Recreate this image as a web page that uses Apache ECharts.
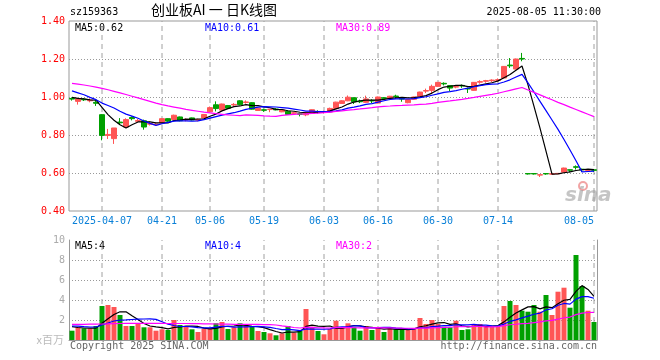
<!DOCTYPE html>
<html><head><meta charset="utf-8">
<script src="https://cdn.jsdelivr.net/npm/echarts@6/dist/echarts.min.js"></script>
<style>html,body{margin:0;padding:0;background:#fff}#c{width:660px;height:360px}</style>
</head><body><div id="c"></div>
<script>
const dates = ['2025-03-28','2025-03-31','2025-04-01','2025-04-02','2025-04-03',
'2025-04-07','2025-04-08','2025-04-09','2025-04-10','2025-04-11',
'2025-04-14','2025-04-15','2025-04-16','2025-04-17','2025-04-18',
'2025-04-21','2025-04-22','2025-04-23','2025-04-24','2025-04-25',
'2025-04-28','2025-04-29','2025-04-30','2025-05-06','2025-05-07',
'2025-05-08','2025-05-09','2025-05-12','2025-05-13','2025-05-14',
'2025-05-15','2025-05-16','2025-05-19','2025-05-20','2025-05-21',
'2025-05-22','2025-05-23','2025-05-26','2025-05-27','2025-05-28',
'2025-05-29','2025-05-30','2025-06-03','2025-06-04','2025-06-05',
'2025-06-06','2025-06-09','2025-06-10','2025-06-11','2025-06-12',
'2025-06-13','2025-06-16','2025-06-17','2025-06-18','2025-06-19',
'2025-06-20','2025-06-23','2025-06-24','2025-06-25','2025-06-26',
'2025-06-27','2025-06-30','2025-07-01','2025-07-02','2025-07-03',
'2025-07-04','2025-07-07','2025-07-08','2025-07-09','2025-07-10',
'2025-07-11','2025-07-14','2025-07-15','2025-07-16','2025-07-17',
'2025-07-18','2025-07-21','2025-07-22','2025-07-23','2025-07-24',
'2025-07-25','2025-07-28','2025-07-29','2025-07-30','2025-07-31',
'2025-08-01','2025-08-04','2025-08-05'];

const openP = [0.992,0.977,0.988,0.980,0.972,
0.907,0.798,0.781,0.868,0.842,
0.892,0.872,0.875,0.857,0.854,
0.863,0.886,0.882,0.895,0.879,
0.890,0.878,0.890,0.922,0.959,
0.931,0.955,0.958,0.980,0.971,
0.970,0.929,0.933,0.934,0.937,
0.922,0.925,0.914,0.912,0.906,
0.913,0.924,0.919,0.921,0.939,
0.966,0.980,0.996,0.978,0.972,
0.982,0.968,0.996,0.992,1.005,
0.992,0.970,0.988,1.004,1.031,
1.035,1.056,1.072,1.060,1.052,
1.061,1.045,1.035,1.078,1.083,
1.086,1.088,1.100,1.168,1.147,
1.203,0.597,0.597,0.589,0.597,
0.594,0.596,0.604,0.617,0.633,
0.620,0.613,0.617];
const closeP = [0.989,0.991,0.985,0.984,0.967,
0.798,0.803,0.837,0.864,0.881,
0.886,0.876,0.842,0.860,0.857,
0.886,0.873,0.904,0.875,0.882,
0.879,0.881,0.908,0.944,0.939,
0.963,0.941,0.961,0.960,0.974,
0.936,0.941,0.930,0.936,0.932,
0.932,0.908,0.917,0.909,0.919,
0.933,0.921,0.922,0.940,0.973,
0.980,0.999,0.975,0.975,0.990,
0.979,1.000,0.993,1.004,1.002,
0.989,0.987,1.000,1.026,1.034,
1.056,1.077,1.069,1.047,1.055,
1.058,1.042,1.077,1.081,1.086,
1.089,1.091,1.161,1.164,1.200,
1.200,0.595,0.595,0.591,0.595,
0.596,0.598,0.626,0.615,0.630,
0.617,0.615,0.614];
const lowP = [0.981,0.960,0.979,0.972,0.953,
0.772,0.779,0.753,0.854,0.842,
0.877,0.867,0.828,0.850,0.850,
0.862,0.868,0.879,0.872,0.872,
0.876,0.872,0.888,0.920,0.924,
0.930,0.938,0.951,0.957,0.965,
0.933,0.927,0.922,0.920,0.930,
0.920,0.906,0.908,0.898,0.899,
0.912,0.913,0.913,0.919,0.937,
0.964,0.978,0.963,0.968,0.970,
0.968,0.966,0.986,0.984,0.990,
0.975,0.967,0.986,1.002,1.021,
1.021,1.054,1.061,1.030,1.046,
1.048,1.021,1.033,1.070,1.075,
1.077,1.080,1.098,1.153,1.145,
1.188,0.592,0.592,0.579,0.591,
0.592,0.594,0.603,0.603,0.618,
0.605,0.608,0.606];
const highP = [0.998,0.993,0.994,0.993,0.985,
0.910,0.832,0.837,0.889,0.888,
0.898,0.884,0.881,0.872,0.862,
0.888,0.888,0.907,0.897,0.888,
0.892,0.886,0.910,0.950,0.977,
0.965,0.958,0.968,0.983,0.982,
0.973,0.943,0.938,0.937,0.940,
0.934,0.927,0.921,0.916,0.921,
0.935,0.930,0.928,0.944,0.975,
0.983,1.008,0.998,0.986,1.007,
0.988,1.002,1.000,1.006,1.012,
1.000,0.989,1.002,1.028,1.044,
1.065,1.079,1.077,1.062,1.060,
1.066,1.050,1.079,1.088,1.090,
1.093,1.098,1.163,1.205,1.202,
1.232,0.599,0.599,0.593,0.599,
0.598,0.600,0.628,0.618,0.640,
0.623,0.618,0.620];
const volume = [0.93,1.27,1.17,1.17,1.40,
3.40,3.50,3.30,2.50,1.40,
1.40,1.67,1.27,1.27,0.93,
1.07,1.00,2.00,1.50,1.40,
1.07,0.80,1.13,1.17,1.67,
1.80,1.10,1.27,1.67,1.43,
1.40,0.90,0.80,0.67,0.47,
0.67,1.40,0.73,0.90,3.10,
1.33,0.90,0.57,1.10,1.93,
1.27,1.67,1.27,0.93,1.40,
1.00,1.27,0.80,1.17,1.07,
1.17,1.00,1.17,2.20,1.60,
2.00,1.60,1.33,1.27,1.93,
1.00,1.07,1.60,1.60,1.40,
1.33,1.33,3.40,3.90,3.50,
2.93,2.83,3.50,2.83,4.50,
2.50,4.83,5.23,3.23,8.50,
5.40,2.93,1.80];

// moving-average values for days before enough history is shown
const ma5Head = [0.998,0.993,0.990,0.985];
const ma10Head = [1.032,1.022,1.012,0.998,0.986,0.968,0.955,0.942,0.925];
const ma30Head = [1.072,1.068,1.063,1.058,1.052,1.045,1.038,1.030,1.022,1.013,
1.004,0.995,0.986,0.977,0.968,0.960,0.953,0.947,0.941,0.935,
0.930,0.925,0.920,0.916,0.912,0.909,0.906,0.904,0.902];
const vma5Head = [1.33,1.25,1.20,1.18];
const vma10Head = [1.40,1.38,1.33,1.30,1.30,1.50,1.70,1.90,1.98];
const vma30Head = [1.57,1.57,1.57,1.58,1.58,1.60,1.62,1.64,1.65,1.66,
1.66,1.66,1.66,1.66,1.66,1.66,1.65,1.65,1.65,1.65,
1.64,1.63,1.62,1.61,1.60,1.59,1.58,1.57,1.56];

const dateTicks = ['2025-04-07','2025-04-21','2025-05-06','2025-05-19','2025-06-03','2025-06-16','2025-06-30','2025-07-14','2025-08-05'];
const tickLabels = ['2025-04-07','04-21','05-06','05-19','06-03','06-16','06-30','07-14','08-05'];
const priceTicks = [0.4, 1.4, 0.2];
const volTicks = [0, 10, 2];
const legendPrice = ['MA5:0.62','MA10:0.61','MA30:0.89'];
const legendVol = ['MA5:4','MA10:4','MA30:2'];

const RED = '#ff5555', GREEN = '#00a000';
const MA_COLORS = ['#000000','#0000ff','#ff00ff'];
const MONO = '"DejaVu Sans Mono", "Liberation Mono", monospace';

function movingAvg(src, n, head) {
  return src.map((_, i) => {
    if (i < n - 1) return head[i];
    let s = 0;
    for (let j = i - n + 1; j <= i; j++) s += src[j];
    return +(s / n).toFixed(4);
  });
}

const kData = dates.map((d, i) => [openP[i], closeP[i], lowP[i], highP[i]]);
const volData = volume.map((v, i) => ({value: v, itemStyle: {color: closeP[i] >= openP[i] ? RED : GREEN}}));
const tickIdx = dateTicks.map(d => dates.indexOf(d));

const chart = echarts.init(document.getElementById('c'), null, {renderer: 'canvas'});

function lineSeries(name, data, color, xi, yi) {
  return {name, type: 'line', data, xAxisIndex: xi, yAxisIndex: yi, symbol: 'none',
    lineStyle: {color, width: 1.2}, z: 5, animation: false, silent: true};
}

// vertical dashed date lines, drawn as an auxiliary line series spanning each grid's value range
function dateLineSeries(xi, yi, lo, hi) {
  const data = [];
  tickIdx.forEach((k) => { data.push([k, lo]); data.push([k, hi]); data.push([k, null]); });
  return {type: 'line', xAxisIndex: xi, yAxisIndex: yi, data, symbol: 'none', connectNulls: false,
    lineStyle: {color: '#a0a0a0', width: 1, type: [5, 4]}, z: 1, silent: true, animation: false};
}

const splitH = {show: true, showMinLine: false, showMaxLine: false, lineStyle: {color: '#999999', type: [1, 2]}};

const option = {
  animation: false,
  grid: [
    {left: 69, top: 21, width: 528, height: 190, show: true, borderColor: '#999', borderWidth: 1},
    {left: 69, top: 240, width: 528, height: 100, show: false}
  ],
  xAxis: [
    {type: 'category', gridIndex: 0, data: dates, boundaryGap: true,
      axisLine: {show: false}, axisTick: {show: false},
      axisLabel: {interval: (i) => tickIdx.indexOf(i) >= 0, color: '#0a80d8', fontFamily: MONO, fontSize: 10, margin: 5,
        alignMaxLabel: 'right',
        formatter: (v) => { const k = dateTicks.indexOf(v); return k >= 0 ? tickLabels[k] : ''; }},
      splitLine: {show: false}},
    {type: 'category', gridIndex: 1, data: dates, boundaryGap: true,
      axisLine: {show: true, lineStyle: {color: '#999'}}, axisTick: {show: false},
      axisLabel: {show: false}, splitLine: {show: false}}
  ],
  yAxis: [
    {type: 'value', gridIndex: 0, min: priceTicks[0], max: priceTicks[1], interval: priceTicks[2],
      axisLine: {show: false}, axisTick: {show: false},
      axisLabel: {color: '#ff0000', fontFamily: MONO, fontSize: 10, margin: 4, formatter: (v) => v.toFixed(2)},
      splitLine: splitH},
    {type: 'value', gridIndex: 1, min: volTicks[0], max: volTicks[1], interval: volTicks[2],
      axisLine: {show: true, lineStyle: {color: '#999'}}, axisTick: {show: false},
      axisLabel: {color: '#aaaaaa', fontFamily: MONO, fontSize: 10, margin: 4, formatter: (v) => v === 0 ? '' : String(v)},
      splitLine: splitH},
    {type: 'value', gridIndex: 1, position: 'right', min: volTicks[0], max: volTicks[1],
      axisLine: {show: true, lineStyle: {color: '#999'}}, axisTick: {show: false},
      axisLabel: {show: false}, splitLine: {show: false}}
  ],
  series: [
    dateLineSeries(0, 0, priceTicks[0], priceTicks[1]),
    dateLineSeries(1, 1, volTicks[0], volTicks[1]),
    {type: 'candlestick', xAxisIndex: 0, yAxisIndex: 0, data: kData, barWidth: 5,
      itemStyle: {color: RED, color0: GREEN, borderColor: RED, borderColor0: GREEN, borderWidth: 1}, z: 3},
    lineSeries('MA5', movingAvg(closeP, 5, ma5Head), MA_COLORS[0], 0, 0),
    lineSeries('MA10', movingAvg(closeP, 10, ma10Head), MA_COLORS[1], 0, 0),
    lineSeries('MA30', movingAvg(closeP, 30, ma30Head), MA_COLORS[2], 0, 0),
    {type: 'bar', xAxisIndex: 1, yAxisIndex: 1, data: volData, barWidth: 5, z: 3},
    lineSeries('VMA5', movingAvg(volume, 5, vma5Head), MA_COLORS[0], 1, 1),
    lineSeries('VMA10', movingAvg(volume, 10, vma10Head), MA_COLORS[1], 1, 1),
    lineSeries('VMA30', movingAvg(volume, 30, vma30Head), MA_COLORS[2], 1, 1)
  ],
  graphic: [
    {type: 'text', left: 70, top: 7, style: {text: 'sz159363', font: '10px ' + MONO, fill: '#000'}},
    {type: 'text', left: 151, top: 3, style: {text: '创业板AI 一 日K线图', font: '14px "Noto Sans CJK SC"', fill: '#000'}},
    {type: 'text', right: 59, top: 7, style: {text: '2025-08-05 11:30:00', font: '10px ' + MONO, fill: '#000'}},
    {type: 'text', left: 75, top: 23, style: {text: legendPrice[0], font: '10px ' + MONO, fill: MA_COLORS[0]}},
    {type: 'text', left: 205, top: 23, style: {text: legendPrice[1], font: '10px ' + MONO, fill: MA_COLORS[1]}},
    {type: 'text', left: 336, top: 23, style: {text: legendPrice[2], font: '10px ' + MONO, fill: MA_COLORS[2]}},
    {type: 'text', left: 75, top: 241, style: {text: legendVol[0], font: '10px ' + MONO, fill: MA_COLORS[0]}},
    {type: 'text', left: 205, top: 241, style: {text: legendVol[1], font: '10px ' + MONO, fill: MA_COLORS[1]}},
    {type: 'text', left: 336, top: 241, style: {text: legendVol[2], font: '10px ' + MONO, fill: MA_COLORS[2]}},
    {type: 'text', right: 596, top: 334, style: {text: 'x百万', font: '11px "Noto Sans CJK SC"', fill: '#bbbbbb'}},
    {type: 'text', left: 70, top: 341, style: {text: 'Copyright 2025 SINA.COM', font: '10px ' + MONO, fill: '#666'}},
    {type: 'text', right: 63, top: 341, style: {text: 'http://finance.sina.com.cn', font: '10px ' + MONO, fill: '#666'}},
    {type: 'circle', shape: {cx: 583, cy: 186, r: 4}, style: {fill: 'none', stroke: 'rgba(230,90,90,0.55)', lineWidth: 2}, z: 1},
    {type: 'text', left: 565, top: 186, style: {text: 'sina', font: 'italic bold 20px "DejaVu Sans"', fill: 'rgba(150,150,150,0.55)'}, z: 1}
  ]
};
chart.setOption(option);
</script>
</body></html>
